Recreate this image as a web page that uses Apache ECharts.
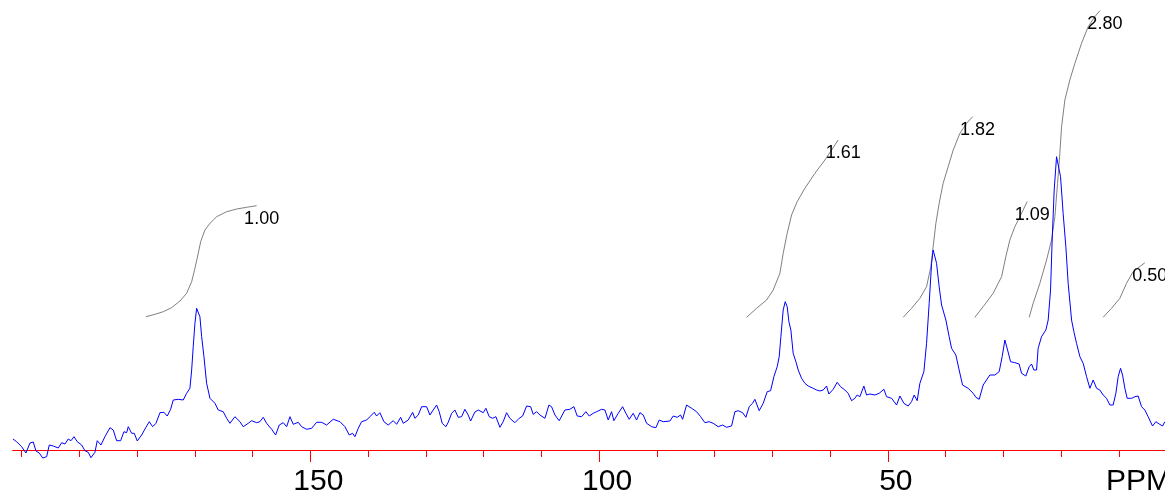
<!DOCTYPE html>
<html><head><meta charset="utf-8">
<script src="https://cdn.jsdelivr.net/npm/echarts@6/dist/echarts.min.js"></script>
<style>html,body{margin:0;padding:0;background:#fff}#c{width:1175px;height:500px}</style>
</head><body><div id="c"></div><script>
// ---- data (ppm, intensity in arbitrary units) ----
const specPpm = [
201.5,200.87,200.0,199.26,198.56,197.99,197.52,196.95,196.36,195.67,
195.22,194.53,193.66,193.07,192.5,191.93,191.46,190.94,190.37,189.61,
189.04,188.47,188.0,187.31,186.91,186.27,185.58,184.71,184.14,183.55,
182.86,182.29,181.82,181.54,180.95,180.5,179.98,179.22,178.48,177.9,
177.32,176.74,176.05,175.36,174.79,174.2,173.75,172.88,172.02,171.43,
170.86,170.56,170.29,169.99,169.7,169.42,169.13,168.83,168.43,167.97,
167.39,166.53,165.95,165.09,164.5,163.93,163.07,162.2,161.63,160.76,
160.17,159.31,158.74,158.16,157.58,156.71,156.02,155.39,154.7,154.11,
153.54,152.97,152.1,151.52,150.65,149.78,148.92,148.05,147.19,146.04,
144.88,144.02,143.27,142.68,142.29,141.71,141.13,140.26,139.69,138.94,
138.53,137.96,137.26,136.52,135.65,135.06,134.37,133.92,133.06,132.29,
131.9,131.32,130.74,129.87,129.3,128.73,128.14,127.69,127.17,126.53,
126.13,125.54,124.97,124.4,123.81,123.24,122.67,122.25,121.51,120.93,
120.07,119.6,119.03,118.44,117.87,117.18,116.61,116.02,115.45,114.58,
113.84,113.25,112.55,111.86,111.41,110.82,110.25,109.38,108.69,108.23,
107.65,106.91,105.92,105.06,104.36,103.79,103.03,102.29,101.71,101.02,
100.43,99.57,98.99,98.42,97.84,97.44,96.69,95.93,95.36,94.79,
94.1,93.51,92.93,92.36,91.77,90.91,90.16,89.59,88.9,87.74,
87.17,86.48,85.89,85.54,84.85,83.98,83.12,82.42,81.68,80.94,
80.24,79.38,78.61,77.92,77.06,76.48,75.91,75.15,74.58,74.01,
73.42,73.02,72.28,71.58,70.89,70.3,69.73,69.16,68.81,68.52,
68.12,67.77,67.43,67.13,66.79,66.39,65.92,65.52,64.94,64.36,
63.79,62.93,62.34,61.77,61.19,60.61,60.21,59.46,58.77,58.18,
57.44,56.87,56.28,55.71,55.31,54.84,54.15,53.68,53.11,52.24,
51.5,50.68,50.22,49.35,48.48,47.91,47.22,46.48,45.89,45.44,
44.92,44.45,43.76,43.29,42.84,42.42,42.15,41.85,41.56,41.11,
40.69,39.95,39.38,38.96,38.22,37.65,37.06,36.09,35.22,34.75,
34.18,33.49,32.33,31.46,30.72,30.2,29.73,29.26,28.74,28.0,
27.26,26.84,26.1,25.52,25.11,24.71,24.24,23.97,23.38,22.63,
22.23,21.82,21.54,21.19,20.78,20.5,20.09,19.64,19.17,18.77,
18.18,17.78,17.32,16.74,16.17,15.58,15.01,14.44,13.85,13.28,
12.71,12.12,11.55,10.98,10.51,10.11,9.7,9.35,8.95,8.55,
7.79,7.22,6.65,6.06,5.49,4.92,4.16,3.58,3.01,2.42,2.03
];
const specIntensity = [
11,8.3,3.3,-3,7,8,-1,-3,-8,-6.7,
5,4,2,7.3,6,11,9.3,13.3,8.3,5,
-0.7,-2.3,-7.7,-2.3,9.3,5,13.3,22.3,20,9.3,
9.3,18.3,17.3,23.3,16.7,16.7,9,15,22.7,28.3,
23.3,26.7,37.3,37.7,34,40.7,50,50.7,50,56.7,
61.7,80,103.3,126.7,141.7,143.3,133.3,113.3,93.3,66.7,
51.7,46.7,40,38.3,31.7,26.7,33.3,28.3,23.3,26.7,
29.3,27.3,28.3,32.7,26.7,20.7,15,25,27.3,23.3,
33.3,25.7,27.7,23.3,20.7,21.7,27.7,27.7,25,30.7,
28.3,23.3,15,16.7,13.3,21.7,28.3,30,33.3,37.7,
34,37.3,28.3,25,29.3,25.7,32.7,26.7,30,37.7,
31.7,35,43.3,43.3,35,40,45,38.3,26.7,23.3,
27.7,36.7,40,32.7,33.3,40.7,35,29,38,40,
37.3,41.7,33.3,31.7,33.3,22.7,28.3,37.3,31.7,27.3,
31.7,34,44,43.3,35.7,38.3,35,31.7,45,43.3,
35,29.3,40,40.7,43.3,34,33.3,38.3,34,36.7,
38.3,40.7,40,30,38.3,29.3,36.7,43.3,36.7,30.7,
36.7,30,37.3,35,26.7,23.3,22.3,30,28.3,29,
34,32.7,35,30.7,45,41.7,38.3,33.3,27.3,28.3,
26.7,23.3,25,22.7,24,38.3,39.3,37.3,32.7,43.3,
46.7,50.7,39.3,46.7,58.3,59.3,73.3,83.3,93.3,113.3,
140,148.3,143.3,128.3,120,96.7,88.3,80,71.7,66.7,
64,61.7,60,59,60,64,56,60.7,67.7,63.3,
60,56.7,49.3,51.7,55,53.3,64,55,56,55,
56.7,60.7,53.3,51.7,45,54,46.7,44,48.3,55,
49.3,66.7,78.3,106.7,146.7,186.7,200,199.3,186.7,163.3,
145,130,113.3,101.7,95,80,65,61.7,56.7,52.7,
50.7,65,75,75,78.3,93.3,110,100,88.3,87.3,
86,76.7,74,83.3,86,80,80,101.7,113.3,120,
130,160,210,260,293.3,291.7,273.3,236.7,203.3,166.7,
130,118.3,106.7,93.3,86.7,73.3,61.7,70,61.7,60,
55,51.7,45,45,56.7,73.3,81.7,75,61.7,51.7,
51.7,53.3,54,43.3,40,33.3,24,28.3,26,24,28.3
];

// integral curves
const int1Ppm = [178.48,176.92,175.48,174.03,172.59,171.43,170.56,169.99,169.42,169.0,168.26,167.39,166.23,164.5,162.77,161.04,159.31];
const int1Val = [133.3,135.7,138.3,142.3,149,156.7,168.3,181.7,196.7,208.3,220,226.7,233.3,238.3,241,242.7,244.3];
const int2Ppm = [74.46,72.73,71.0,69.85,68.69,68.12,67.43,66.67,65.7,64.36,62.63,60.9,59.74,58.6];
const int2Val = [132.7,141.7,150,160,176.7,196.7,216.7,235,248.3,261.7,276.7,290,300,310];
const int3Ppm = [47.34,45.89,44.45,43.29,42.55,42.15,41.68,41.11,40.42,39.55,38.68,37.52,36.36,35.32];
const int3Val = [132.7,141.7,151.7,163.3,183.3,203.3,226.7,246.7,266.7,283.3,300,316.7,326.7,333.3];
const int4Ppm = [34.93,33.49,31.76,30.3,29.56,28.87,28.0,27.13,25.87];
const int4Val = [132.7,143.3,156.7,173.3,193.3,210,223.3,233.3,248.3];
const int5Ppm = [25.52,24.83,23.67,22.51,21.65,21.07,20.61,20.21,19.91,19.34,18.48,17.61,16.45,15.31,14.15,13.28];
const int5Val = [132.7,146.7,166.7,190,210,233.3,266.7,296.7,323.3,350,370,386.7,406.7,423.3,433.3,439.3];
const int6Ppm = [12.71,11.26,9.82,8.66,7.52,5.49];
const int6Val = [132.7,141.7,151.7,166.7,178.3,187.3];
const integralLabels = ['1.00','1.61','1.82','1.09','2.80','0.50'];

// axis ticks
const minorTickValues = [10,20,30,40,50,60,70,80,90,100,110,120,130,140,150,160,170,180,190,200];
const majorTickValues = [50,100,150];
const axisTitle = 'PPM';

// ---- build ----
const zip = (a, b) => a.map((v, i) => [v, b[i]]);
const integrals = [
  zip(int1Ppm, int1Val), zip(int2Ppm, int2Val), zip(int3Ppm, int3Val),
  zip(int4Ppm, int4Val), zip(int5Ppm, int5Val), zip(int6Ppm, int6Val)
];
const labelPoints = integrals.map((c, i) => ({ name: integralLabels[i], value: c[c.length - 1] }));

const chart = echarts.init(document.getElementById('c'), null, { renderer: 'canvas' });
const FONT = '"Liberation Sans", Arial, sans-serif';
const option = {
  animation: false,
  backgroundColor: '#ffffff',
  grid: { left: 13, right: 10, top: 0, bottom: 50 },
  xAxis: [
    {
      type: 'value', min: 2, max: 201.5, inverse: true, position: 'bottom',
      axisLine: { show: true, onZero: false, lineStyle: { color: '#ff0000', width: 1 } },
      axisTick: { show: true, customValues: minorTickValues, length: 7, lineStyle: { color: '#ff0000', width: 1 } },
      axisLabel: { show: false },
      splitLine: { show: false }
    },
    {
      type: 'value', min: 2, max: 201.5, inverse: true, position: 'bottom',
      axisLine: { show: true, onZero: false, lineStyle: { color: '#ff0000', width: 1 } },
      axisTick: { show: true, customValues: majorTickValues, length: 12, lineStyle: { color: '#ff0000', width: 1 } },
      axisLabel: {
        show: true, customValues: majorTickValues, fontSize: 30, color: '#000000',
        fontFamily: FONT, margin: 17, padding: [0, 0, 0, 16]
      },
      splitLine: { show: false }
    }
  ],
  yAxis: { type: 'value', min: 0, max: 450, show: false },
  series: [
    {
      type: 'line', name: 'spectrum', xAxisIndex: 0, data: zip(specPpm, specIntensity),
      symbol: 'none', clip: false, z: 3,
      lineStyle: { color: '#0000ff', width: 1 }
    },
    ...integrals.map((d, i) => ({
      type: 'line', name: 'integral ' + integralLabels[i], xAxisIndex: 0, data: d,
      symbol: 'none', clip: false, z: 2,
      lineStyle: { color: '#808080', width: 1 }
    })),
    {
      type: 'scatter', name: 'integral labels', xAxisIndex: 0, data: labelPoints,
      symbolSize: 0, clip: false, z: 5, silent: true,
      itemStyle: { opacity: 1 },
      label: {
        show: true, formatter: '{b}', position: [-12.5, 4.5],
        fontSize: 18, color: '#000000', opacity: 1, fontFamily: FONT
      }
    }
  ],
  graphic: [
    { type: 'text', left: 1106, top: 467, z: 10,
      style: { text: axisTitle, font: '30px ' + FONT, fill: '#000000' } },
    { type: 'rect', left: 1165, top: 0, z: 100,
      shape: { width: 10, height: 500 }, style: { fill: '#ffffff' } }
  ]
};
chart.setOption(option);
</script></body></html>
